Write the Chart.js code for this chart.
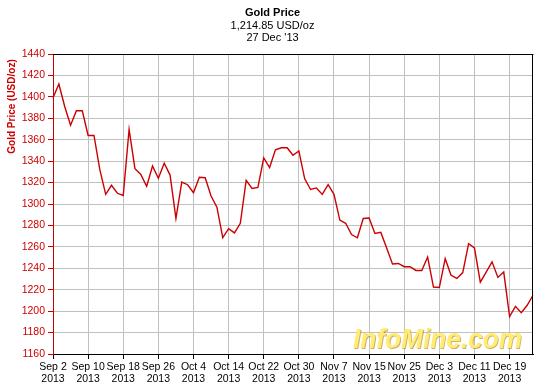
<!DOCTYPE html>
<html>
<head>
<meta charset="utf-8">
<script src="https://cdn.jsdelivr.net/npm/chart.js@4.4.1/dist/chart.umd.min.js"></script>
<style>
  html, body { margin: 0; padding: 0; background: #ffffff; }
  #wrap { width: 545px; height: 391px; position: relative; }
</style>
</head>
<body>
<div id="wrap"><canvas id="c" width="545" height="391"></canvas></div>
<script>
// ---- data ----
const dates = [
  'Sep 2','Sep 3','Sep 4','Sep 5','Sep 6','Sep 9','Sep 10','Sep 11','Sep 12','Sep 13',
  'Sep 16','Sep 17','Sep 18','Sep 19','Sep 20','Sep 23','Sep 24','Sep 25','Sep 26','Sep 27','Sep 30',
  'Oct 1','Oct 2','Oct 3','Oct 4','Oct 7','Oct 8','Oct 9','Oct 10','Oct 11',
  'Oct 14','Oct 15','Oct 16','Oct 17','Oct 18','Oct 21','Oct 22','Oct 23','Oct 24','Oct 25',
  'Oct 28','Oct 29','Oct 30','Oct 31',
  'Nov 1','Nov 4','Nov 5','Nov 6','Nov 7','Nov 8','Nov 11','Nov 12','Nov 13','Nov 14','Nov 15',
  'Nov 18','Nov 19','Nov 20','Nov 21','Nov 22','Nov 25','Nov 26','Nov 27','Nov 28','Nov 29',
  'Dec 2','Dec 3','Dec 4','Dec 5','Dec 6','Dec 9','Dec 10','Dec 11','Dec 12','Dec 13',
  'Dec 16','Dec 17','Dec 18','Dec 19','Dec 20','Dec 23','Dec 24','Dec 27'
];
const year = '2013';
const prices = [
  1399, 1412, 1391, 1373.5, 1387, 1387, 1364, 1364, 1332, 1309,
  1317.5, 1310, 1308, 1369.5, 1333, 1327.5, 1316.5, 1335.5, 1324, 1338, 1327,
  1286.5, 1320.5, 1318, 1310.5, 1325, 1324.5, 1307.5, 1297, 1268.5,
  1277, 1273, 1282, 1322, 1314.5, 1315.5, 1343, 1334, 1350.5, 1352.5,
  1352.5, 1345.5, 1349.5, 1323.5,
  1313.5, 1315, 1309, 1318, 1309, 1285, 1282, 1271.5, 1268.5, 1286.5, 1287,
  1272.5, 1273.5, 1259, 1244, 1244.5, 1241.5, 1241.5, 1238, 1238, 1250.5,
  1222.5, 1222, 1249, 1233.5, 1230.5, 1236, 1263, 1259, 1227, 1236.5,
  1246, 1231.5, 1236.5, 1195, 1204.5, 1198.5, 1205.5, 1214.85
];
const labelEvery = 6;
const yMin = 1160, yMax = 1440, yStep = 20;
const titleLines = ['Gold Price', '1,214.85 USD/oz', "27 Dec '13"];
const yAxisTitle = 'Gold Price (USD/oz)';
const watermark = 'InfoMine.com';

const RED = '#cc0000';
const GRID = '#c0c0c0';
const FONT = '"Liberation Sans", Arial, sans-serif';

const overlay = {
  id: 'overlay',
  beforeDatasetsDraw(chart) {
    const ctx = chart.ctx;
    ctx.save();
    ctx.font = 'italic bold 28px ' + FONT;
    const w = ctx.measureText(watermark).width;
    const x0 = 353, base = 348, targetW = 169;
    const g = ctx.createLinearGradient(0, base - 21, 0, base);
    g.addColorStop(0, '#ffec70');
    g.addColorStop(0.5, '#ffd21a');
    g.addColorStop(1, '#eea400');
    ctx.translate(x0, base);
    ctx.scale(targetW / w, 1);
    ctx.textBaseline = 'alphabetic';
    ctx.fillStyle = 'rgba(170,110,0,0.55)';
    ctx.fillText(watermark, 1, 1);
    ctx.fillStyle = g;
    ctx.fillText(watermark, 0, 0);
    ctx.restore();
  },
  afterDraw(chart) {
    const ctx = chart.ctx;
    const a = chart.chartArea;
    ctx.save();
    // frame: top and right black lines
    ctx.strokeStyle = '#000';
    ctx.lineWidth = 1;
    ctx.beginPath();
    ctx.moveTo(a.left, Math.round(a.top) + 0.5);
    ctx.lineTo(a.right + 0.5, Math.round(a.top) + 0.5);
    ctx.moveTo(Math.round(a.right) - 0.5, a.top);
    ctx.lineTo(Math.round(a.right) - 0.5, a.bottom);
    ctx.stroke();
    // titles
    ctx.fillStyle = '#000';
    ctx.textAlign = 'center';
    ctx.textBaseline = 'alphabetic';
    ctx.font = 'bold 11px ' + FONT;
    ctx.fillText(titleLines[0], 272.5, 16);
    ctx.font = '11px ' + FONT;
    ctx.fillText(titleLines[1], 272.5, 29);
    ctx.fillText(titleLines[2], 272.5, 41);
    // y axis title
    ctx.translate(14.5, 106.5);
    ctx.rotate(-Math.PI / 2);
    ctx.fillStyle = RED;
    ctx.font = 'bold 10px ' + FONT;
    ctx.textAlign = 'center';
    ctx.fillText(yAxisTitle, 0, 0);
    ctx.restore();
  }
};

new Chart(document.getElementById('c'), {
  type: 'line',
  data: {
    labels: dates,
    datasets: [{
      data: prices,
      borderColor: RED,
      borderWidth: 1.4,
      pointRadius: 0,
      tension: 0,
      fill: false
    }]
  },
  options: {
    responsive: false,
    animation: false,
    devicePixelRatio: 1,
    layout: { padding: { left: 0, right: 12, top: 54, bottom: 0 } },
    plugins: { legend: { display: false }, title: { display: false }, tooltip: { enabled: false } },
    scales: {
      x: {
        type: 'category',
        offset: false,
        afterFit(s) { s.height = 37; },
        border: { display: true, color: '#000', width: 1 },
        grid: {
          drawOnChartArea: true,
          tickLength: 5,
          color: (c) => (c.index % labelEvery === 0 && c.index > 0 && c.index < dates.length - 1) ? GRID : 'rgba(0,0,0,0)',
          tickColor: (c) => (c.index % labelEvery === 0) ? '#000' : 'rgba(0,0,0,0)'
        },
        ticks: {
          autoSkip: false,
          maxRotation: 0,
          minRotation: 0,
          padding: 2,
          color: '#000',
          font: { family: FONT, size: 10.5, lineHeight: 1.15 },
          callback: function (v, i) { return i % labelEvery === 0 ? [dates[i], year] : ''; }
        }
      },
      y: {
        min: yMin,
        max: yMax,
        afterFit(s) { s.width = 53; },
        border: { display: true, color: RED, width: 1 },
        grid: {
          tickLength: 5,
          color: (c) => (c.tick && c.tick.value === yMax) ? 'rgba(0,0,0,0)' : GRID,
          tickColor: RED
        },
        ticks: {
          stepSize: yStep,
          padding: 3,
          color: RED,
          font: { family: FONT, size: 10.5 },
          callback: (v) => String(v)
        }
      }
    }
  },
  plugins: [overlay]
});
</script>
</body>
</html>
